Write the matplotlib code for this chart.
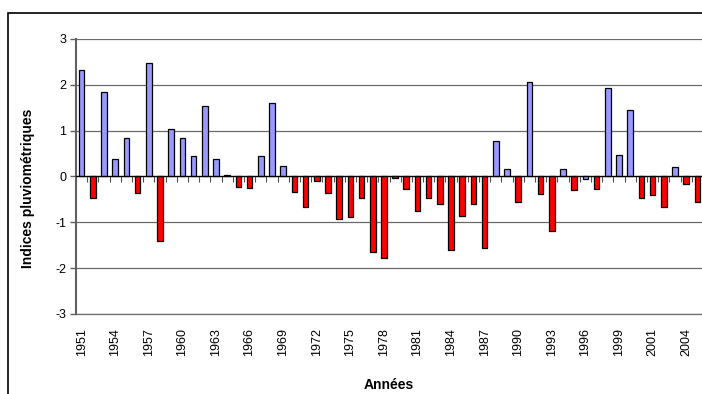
import matplotlib
matplotlib.use("Agg")
import matplotlib.pyplot as plt
import matplotlib.patches as mpatches
import numpy as np

plt.rcParams['font.family'] = ['Liberation Sans', 'DejaVu Sans']
plt.rcParams['axes.unicode_minus'] = False

# categories (the source sheet has 56 rows, "2000" appears twice)
annees = [str(a) for a in range(1951, 2001)] + ["2000", "2001", "2002", "2003", "2004", "2005"]

indices = [
    2.32, -0.47, 1.84, 0.385, 0.85, -0.35, 2.47, -1.41, 1.04, 0.83,
    0.45, 1.53, 0.39, 0.03, -0.24, -0.25, 0.45, 1.61, 0.22, -0.33,
    -0.67, -0.10, -0.35, -0.92, -0.89, -0.47, -1.65, -1.78, -0.03, -0.27,
    -0.76, -0.47, -0.61, -1.60, -0.87, -0.61, -1.55, 0.785, 0.16, -0.56,
    2.07, -0.38, -1.18, 0.16, -0.30, -0.06, -0.27, 1.92, 0.47, 1.44,
    -0.47, -0.41, -0.67, 0.20, -0.16, -0.56,
]

# rows drawn in the "wet" series although slightly negative
exceptions_bleues = [45]

bleu = "#9999FF"
rouge = "#FF0000"
couleurs = [bleu if (v >= 0 or i in exceptions_bleues) else rouge for i, v in enumerate(indices)]

W, H = 702, 394
fig = plt.figure(figsize=(W / 100, H / 100), dpi=100)
ax = fig.add_axes([76 / W, 1 - 314 / H, 627 / W, 275 / H])

x = np.arange(len(annees))
ax.bar(x, indices, width=0.5, color=couleurs, edgecolor="black", linewidth=0.9, zorder=3)

ax.set_xlim(-0.5, len(annees) - 0.5)
ax.set_ylim(-3, 3)
ax.set_yticks(range(-3, 4))
ax.tick_params(axis="y", direction="out", length=4, width=1, color="#606060", labelsize=9, pad=3)
ax.yaxis.grid(True, color="#6a6a6a", linewidth=0.9)
ax.set_axisbelow(True)

ax.spines["top"].set_visible(False)
ax.spines["right"].set_visible(False)
ax.spines["left"].set_color("#606060")
ax.spines["left"].set_linewidth(1.5)
ax.spines["bottom"].set_position(("data", 0))
ax.spines["bottom"].set_color("black")
ax.spines["bottom"].set_linewidth(0.9)
ax.spines["bottom"].set_zorder(4)

# boundary tick marks on the zero axis
ax.set_xticks(np.arange(len(annees) + 1) - 0.5)
ax.set_xticklabels([])
ax.tick_params(axis="x", direction="out", length=4, width=0.8, color="#505050")

# year labels at the bottom of the plot area
sec = ax.secondary_xaxis("bottom")
sec.set_xticks(x[::3], [annees[i] for i in x[::3]], rotation=90)
sec.tick_params(length=0, pad=10, labelsize=9)
sec.spines["bottom"].set_color("#6a6a6a")
sec.spines["bottom"].set_linewidth(0.9)

fig.text(28 / W, 1 - 188 / H, "Indices pluviométriques", rotation=90,
         ha="center", va="center", fontsize=10, fontweight="bold")
fig.text(389 / W, 1 - 385 / H, "Années", ha="center", va="center",
         fontsize=10, fontweight="bold")

fig.add_artist(mpatches.Rectangle((8 / W, -0.05), 1.1, 1.05 - 13 / H,
                                  transform=fig.transFigure, fill=False,
                                  edgecolor="black", linewidth=1.2))

fig.savefig("out.png", dpi=100)
